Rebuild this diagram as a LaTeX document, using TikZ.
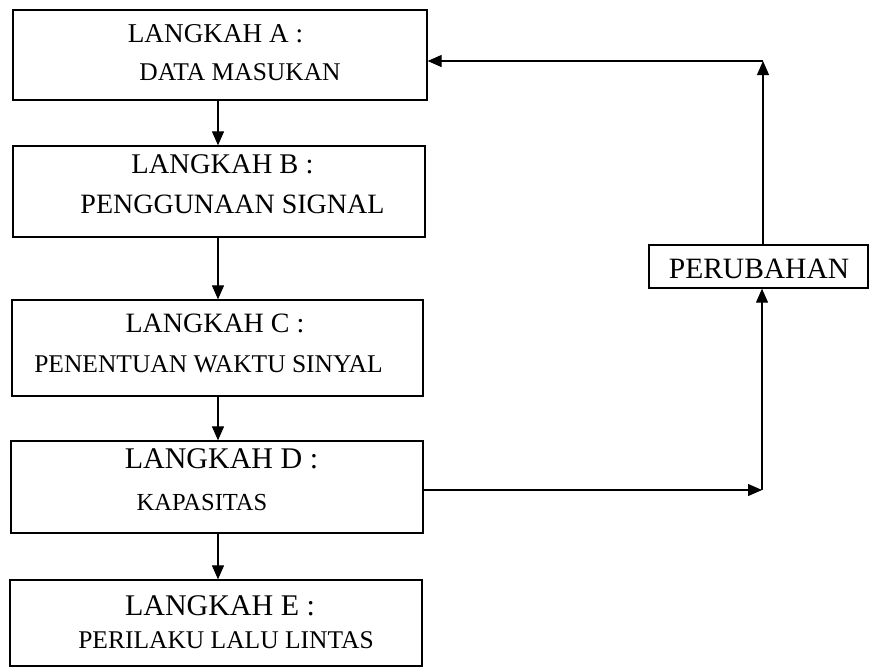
\documentclass[tikz,border=0pt]{standalone}
\usepackage{fontspec}
\setmainfont{Liberation Serif}
\usetikzlibrary{arrows.meta}
\tikzset{
  box/.style={draw=black, line width=1.3pt, rectangle, inner sep=0pt},
  txt/.style={anchor=base, inner sep=0pt, text=black},
  arr/.style={draw=black, line width=1.1pt, -{Triangle[length=14pt,width=12pt]}},
  ln/.style={draw=black, line width=1.1pt}
}
\newcommand{\fs}[1]{\fontsize{#1}{#1}\selectfont}
\begin{document}
\begin{tikzpicture}[x=1pt,y=-1pt]
\useasboundingbox (0,0) rectangle (869,670);
% boxes
\node[box, minimum width=414pt, minimum height=90pt] (A) at (220,55) {};
\node[box, minimum width=412pt, minimum height=91pt] (B) at (219,191.5) {};
\node[box, minimum width=411pt, minimum height=96pt] (C) at (217.5,348) {};
\node[box, minimum width=412pt, minimum height=92pt] (D) at (217,487) {};
\node[box, minimum width=412pt, minimum height=86pt] (E) at (216,623) {};
\node[box, minimum width=219pt, minimum height=43pt] (P) at (758.5,266.5) {};
% texts
\node[txt] (a1) at (215.5,42) {\fs{27.2}LANGKAH A :};
\node[txt] (a2) at (240,80) {\fs{25.5}DATA MASUKAN};
\node[txt] (b1) at (222.5,173) {\fs{28.5}LANGKAH B :};
\node[txt] (b2) at (232.5,213) {\fs{28}PENGGUNAAN SIGNAL};
\node[txt] (c1) at (215,332) {\fs{28}LANGKAH C :};
\node[txt] (c2) at (208.5,372) {\fs{25.5}PENENTUAN WAKTU SINYAL};
\node[txt] (d1) at (221.5,468) {\fs{30}LANGKAH D :};
\node[txt] (d2) at (202,510) {\fs{24.5}KAPASITAS};
\node[txt] (e1) at (220,615) {\fs{30}LANGKAH E :};
\node[txt] (e2) at (226,648) {\fs{25.5}PERILAKU LALU LINTAS};
\node[txt] (p1) at (759,278) {\fs{29.5}PERUBAHAN};
% connectors
\coordinate (spine) at (218,0);
\draw[arr] (A.south -| spine) -- (B.north -| spine);
\draw[arr] (B.south -| spine) -- (C.north -| spine);
\draw[arr] (C.south -| spine) -- (D.north -| spine);
\draw[arr] (D.south -| spine) -- (E.north -| spine);
\coordinate (k1) at (762,490);
\coordinate (k2) at (763,61);
\draw[arr] (D.east |- k1) -- (k1);
\draw[arr] (k1) -- (P.south -| k1);
\draw[arr] (P.north -| k2) -- (k2);
\draw[arr] (k2) -- (A.east |- k2);
\end{tikzpicture}
\end{document}
